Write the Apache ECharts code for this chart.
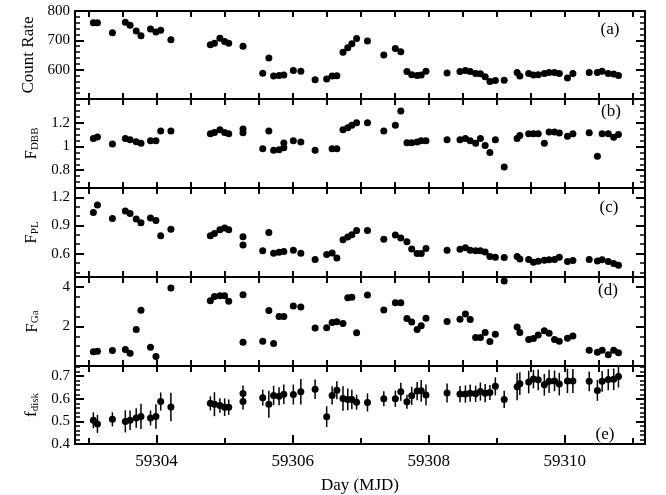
<!DOCTYPE html>
<html><head><meta charset="utf-8">
<script src="https://cdn.jsdelivr.net/npm/echarts@6/dist/echarts.min.js"></script>
<style>html,body{margin:0;padding:0;background:#fff}#c{width:666px;height:495px}</style>
</head><body><div id="c"></div>
<script>
// ---- data (MJD, value) ----
const countRate = [
[59303.07,760],[59303.13,760],[59303.35,726],[59303.54,762],[59303.61,751],[59303.70,732],[59303.77,716],[59303.91,739],[59303.99,728],[59304.06,734],[59304.21,702],
[59304.79,685],[59304.85,690],[59304.93,707],[59305.00,696],[59305.06,690],[59305.27,680],
[59305.56,588],[59305.65,640],[59305.72,578],[59305.80,580],[59305.87,582],[59306.01,597],[59306.12,595],
[59306.33,566],[59306.50,568],[59306.58,578],[59306.65,579],[59306.74,659],[59306.81,675],[59306.87,688],[59306.94,706],[59307.10,698],
[59307.34,650],[59307.51,672],[59307.59,661],[59307.68,594],[59307.75,583],[59307.83,580],[59307.89,582],[59307.96,595],
[59308.27,589],[59308.46,594],[59308.54,597],[59308.61,594],[59308.69,587],[59308.76,586],[59308.83,576],[59308.90,560],[59308.98,563],[59309.11,564],
[59309.30,590],[59309.34,578],[59309.47,587],[59309.54,582],[59309.61,583],[59309.70,587],[59309.77,590],[59309.85,590],[59309.92,587],[59310.04,572],[59310.12,587],
[59310.36,590],[59310.48,590],[59310.55,595],[59310.64,587],[59310.72,585],[59310.79,580]
];
const fDBB = [
[59303.07,1.068],[59303.13,1.079],[59303.35,1.02],[59303.54,1.068],[59303.61,1.056],[59303.70,1.04],[59303.77,1.028],[59303.91,1.048],[59303.99,1.048],[59304.06,1.13],[59304.21,1.13],
[59304.79,1.107],[59304.85,1.118],[59304.93,1.141],[59305.00,1.118],[59305.06,1.107],[59305.27,1.147],[59305.27,1.115],
[59305.56,0.98],[59305.65,1.13],[59305.72,0.969],[59305.80,0.972],[59305.87,0.99],[59305.87,1.03],[59306.01,1.048],[59306.12,1.037],
[59306.33,0.969],[59306.58,0.98],[59306.65,0.98],[59306.74,1.141],[59306.81,1.158],[59306.87,1.178],[59306.94,1.2],[59307.10,1.2],
[59307.34,1.13],[59307.51,1.178],[59307.59,1.299],[59307.68,1.031],[59307.75,1.031],[59307.83,1.037],[59307.89,1.048],[59307.96,1.048],
[59308.27,1.056],[59308.46,1.056],[59308.54,1.068],[59308.61,1.048],[59308.69,1.028],[59308.76,1.068],[59308.83,1.009],[59308.90,0.95],[59308.98,1.056],[59309.11,0.828],
[59309.30,1.068],[59309.34,1.093],[59309.47,1.107],[59309.54,1.107],[59309.61,1.107],[59309.70,1.028],[59309.77,1.121],[59309.85,1.121],[59309.92,1.113],[59310.04,1.087],[59310.12,1.107],
[59310.36,1.115],[59310.48,0.918],[59310.55,1.107],[59310.64,1.107],[59310.72,1.077],[59310.79,1.1]
];
const fPL = [
[59303.07,1.038],[59303.13,1.118],[59303.35,0.974],[59303.54,1.055],[59303.61,1.027],[59303.70,0.970],[59303.77,0.928],[59303.91,0.981],[59303.99,0.953],[59304.06,0.79],[59304.21,0.861],
[59304.79,0.79],[59304.85,0.815],[59304.93,0.854],[59305.00,0.872],[59305.06,0.854],[59305.27,0.779],[59305.27,0.692],
[59305.56,0.631],[59305.65,0.826],[59305.72,0.604],[59305.80,0.614],[59305.87,0.621],[59306.01,0.635],[59306.12,0.604],
[59306.33,0.536],[59306.50,0.589],[59306.58,0.607],[59306.65,0.554],[59306.74,0.748],[59306.81,0.776],[59306.87,0.8],[59306.94,0.847],[59307.10,0.847],
[59307.34,0.752],[59307.51,0.797],[59307.59,0.766],[59307.68,0.727],[59307.75,0.649],[59307.83,0.6],[59307.89,0.6],[59307.96,0.653],
[59308.27,0.635],[59308.46,0.646],[59308.54,0.663],[59308.61,0.635],[59308.69,0.631],[59308.76,0.631],[59308.83,0.617],[59308.90,0.568],[59308.98,0.561],[59309.11,0.557],
[59309.30,0.568],[59309.34,0.543],[59309.47,0.536],[59309.54,0.508],[59309.61,0.519],[59309.70,0.529],[59309.77,0.533],[59309.85,0.536],[59309.92,0.561],[59310.04,0.515],[59310.12,0.526],
[59310.36,0.536],[59310.48,0.522],[59310.55,0.533],[59310.64,0.515],[59310.72,0.494],[59310.79,0.476]
];
const fGa = [
[59303.07,0.72],[59303.13,0.75],[59303.35,0.785],[59303.54,0.835],[59303.61,0.65],[59303.70,1.85],[59303.77,2.82],[59303.91,0.95],[59303.99,0.485],[59304.21,3.95],
[59304.79,3.3],[59304.85,3.52],[59304.93,3.55],[59305.00,3.55],[59305.06,3.28],[59305.27,3.6],[59305.27,1.2],
[59305.56,1.25],[59305.65,2.8],[59305.72,1.135],[59305.80,2.5],[59305.87,2.5],[59306.01,3.035],[59306.12,2.985],
[59306.33,1.92],[59306.50,1.935],[59306.58,2.2],[59306.65,2.235],[59306.74,2.15],[59306.81,3.45],[59306.87,3.47],[59306.94,1.685],[59307.10,3.585],
[59307.34,2.835],[59307.51,3.2],[59307.59,3.2],[59307.68,2.4],[59307.75,2.22],[59307.83,1.85],[59307.89,2.035],[59307.96,2.42],
[59308.27,2.25],[59308.46,2.37],[59308.54,2.635],[59308.61,2.35],[59308.69,1.435],[59308.76,1.435],[59308.83,1.7],[59308.90,1.235],[59308.98,1.6],[59309.11,4.3],
[59309.30,1.97],[59309.34,1.7],[59309.47,1.335],[59309.54,1.385],[59309.61,1.57],[59309.70,1.785],[59309.77,1.65],[59309.85,1.335],[59309.92,1.25],[59310.04,1.4],[59310.12,1.52],
[59310.36,0.8],[59310.48,0.7],[59310.55,0.8],[59310.64,0.565],[59310.72,0.8],[59310.79,0.67]
];
// (MJD, f_disk, half error)
const fDisk = [
[59303.07,0.505,0.035],[59303.13,0.489,0.04],[59303.35,0.509,0.031],[59303.54,0.5,0.049],[59303.61,0.505,0.043],[59303.70,0.515,0.043],[59303.77,0.522,0.056],[59303.91,0.515,0.033],[59303.99,0.522,0.054],[59304.06,0.588,0.04],[59304.21,0.564,0.063],
[59304.79,0.58,0.031],[59304.85,0.576,0.053],[59304.93,0.57,0.032],[59305.00,0.563,0.039],[59305.06,0.563,0.034],[59305.27,0.623,0.036],[59305.27,0.588,0.035],
[59305.56,0.605,0.035],[59305.65,0.576,0.06],[59305.72,0.615,0.043],[59305.80,0.611,0.04],[59305.87,0.62,0.043],[59306.01,0.619,0.044],[59306.12,0.631,0.056],
[59306.33,0.642,0.043],[59306.50,0.521,0.046],[59306.58,0.615,0.04],[59306.65,0.638,0.04],[59306.74,0.601,0.054],[59306.81,0.597,0.048],[59306.87,0.597,0.043],[59306.94,0.585,0.033],[59307.10,0.584,0.04],
[59307.34,0.6,0.033],[59307.51,0.6,0.036],[59307.59,0.631,0.04],[59307.68,0.587,0.031],[59307.75,0.613,0.04],[59307.83,0.634,0.04],[59307.89,0.635,0.048],[59307.96,0.617,0.046],
[59308.27,0.626,0.042],[59308.46,0.621,0.036],[59308.54,0.621,0.038],[59308.61,0.625,0.038],[59308.69,0.622,0.036],[59308.76,0.632,0.04],[59308.83,0.625,0.04],[59308.90,0.628,0.033],[59308.98,0.655,0.04],[59309.11,0.597,0.038],
[59309.30,0.653,0.06],[59309.34,0.667,0.05],[59309.47,0.674,0.05],[59309.54,0.687,0.041],[59309.61,0.684,0.046],[59309.70,0.662,0.048],[59309.77,0.677,0.051],[59309.85,0.679,0.046],[59309.92,0.665,0.05],[59310.04,0.679,0.054],[59310.12,0.679,0.053],
[59310.36,0.677,0.044],[59310.48,0.637,0.046],[59310.55,0.677,0.046],[59310.64,0.685,0.047],[59310.72,0.686,0.048],[59310.79,0.699,0.049]
];
const xTickLabels = [59304, 59306, 59308, 59310];
const panelLabels = ['(a)', '(b)', '(c)', '(d)', '(e)'];
const yLabelsA = [600, 700, 800];
const yLabelsB = [0.8, 1, 1.2];
const yLabelsC = [0.6, 0.9, 1.2];
const yLabelsD = [2, 4];
const yLabelsE = [0.4, 0.5, 0.6, 0.7];

// ---- layout ----
const FONT = '"Liberation Serif","Times New Roman",serif';
const X_MIN = 59302.8, X_MAX = 59311.18;
const GL = 75, GR = 21;
const grids = [
  {top: 11, height: 88}, {top: 99, height: 89}, {top: 188, height: 89},
  {top: 277, height: 89}, {top: 366, height: 86}
];
function steps(a, b, s) { const r = []; const n = Math.round((b - a) / s); for (let k = 0; k <= n; k++) r.push(+(a + k * s).toFixed(5)); return r; }
const halfDays = steps(59303, 59311, 0.5);
const oddDays = [59303, 59305, 59307, 59309, 59311];

const subRich = {
  f: {fontFamily: FONT, fontSize: 17, color: '#000', lineHeight: 18, verticalAlign: 'top'},
  s: {fontFamily: FONT, fontSize: 11, color: '#000', lineHeight: 18, verticalAlign: 'top', padding: [6, 0, 0, 0]},
  n: {fontFamily: FONT, fontSize: 17, color: '#000', lineHeight: 18}
};
const panels = [
  {data: countRate, min: 500, max: 800, labels: yLabelsA, majors: [500, 600, 700, 800], minors: steps(500, 800, 20), name: '{n|Count Rate}', gap: 33},
  {data: fDBB, min: 0.65, max: 1.4, labels: yLabelsB, majors: yLabelsB, minors: steps(0.65, 1.4, 0.05), name: '{f|F}{s|DBB}', gap: 33},
  {data: fPL, min: 0.35, max: 1.3, labels: yLabelsC, majors: yLabelsC, minors: steps(0.4, 1.3, 0.1), name: '{f|F}{s|PL}', gap: 33},
  {data: fGa, min: 0, max: 4.5, labels: yLabelsD, majors: [0, 2, 4], minors: steps(0, 4.5, 0.5), name: '{f|F}{s|Ga}', gap: 33},
  {data: fDisk, min: 0.4, max: 0.745, labels: yLabelsE, majors: yLabelsE, minors: steps(0.4, 0.74, 0.02), name: '{f|f}{s|disk}', gap: 33}
];

const line = {color: '#000', width: 2};
const xAxes = [], yAxes = [], series = [], gridOpts = [];
panels.forEach((p, i) => {
  gridOpts.push({left: GL, right: GR, top: grids[i].top, height: grids[i].height});
  const xb = {gridIndex: i, type: 'value', min: X_MIN, max: X_MAX, splitLine: {show: false},
    axisLine: {onZero: false, lineStyle: line}, axisLabel: {show: false}};
  const xMain = xAxes.length;
  if (i < 4) {
    xAxes.push({...xb, position: 'bottom', axisTick: {inside: true, length: 6, customValues: halfDays, lineStyle: line}});
  } else {
    xAxes.push({...xb, position: 'bottom',
      axisTick: {inside: true, length: 9, customValues: xTickLabels, lineStyle: line},
      axisLabel: {show: true, customValues: xTickLabels, formatter: v => String(v), fontFamily: FONT, fontSize: 17, color: '#000', margin: 9},
      name: 'Day (MJD)', nameLocation: 'middle', nameGap: 33, nameTextStyle: {fontFamily: FONT, fontSize: 17, color: '#000'}});
    xAxes.push({...xb, position: 'bottom', axisTick: {inside: true, length: 6, customValues: oddDays, lineStyle: line}});
  }
  xAxes.push({...xb, position: 'top', axisTick: {inside: true, length: 6, customValues: halfDays, lineStyle: line}});

  const yb = {gridIndex: i, type: 'value', min: p.min, max: p.max, splitLine: {show: false},
    axisLine: {onZero: false, lineStyle: line}, axisLabel: {show: false}};
  const yMain = yAxes.length;
  yAxes.push({...yb, position: 'left', axisTick: {inside: true, length: 9, customValues: p.majors, lineStyle: line},
    axisLabel: {show: true, customValues: p.labels, formatter: v => String(v), fontFamily: FONT, fontSize: 15, color: '#000', margin: 5},
    name: p.name, nameLocation: 'middle', nameRotate: 90, nameGap: p.gap, nameTextStyle: {rich: subRich}});
  yAxes.push({...yb, position: 'left', axisTick: {inside: true, length: 5, customValues: p.minors, lineStyle: {color: '#000', width: 1.5}}});
  yAxes.push({...yb, position: 'right', axisTick: {inside: true, length: 9, customValues: p.majors, lineStyle: line}});
  yAxes.push({...yb, position: 'right', axisTick: {inside: true, length: 5, customValues: p.minors, lineStyle: {color: '#000', width: 1.5}}});

  if (i === 4) {
    series.push({type: 'custom', xAxisIndex: xMain, yAxisIndex: yMain, silent: true, z: 1,
      data: p.data.map(d => [d[0], d[1] - d[2], d[1] + d[2]]),
      renderItem: (params, api) => {
        const x = api.value(0);
        const a = api.coord([x, api.value(1)]), b = api.coord([x, api.value(2)]);
        return {type: 'line', shape: {x1: a[0], y1: a[1], x2: b[0], y2: b[1]}, style: {stroke: '#000', lineWidth: 1.5}};
      }});
  }
  series.push({type: 'scatter', xAxisIndex: xMain, yAxisIndex: yMain, symbol: 'circle', symbolSize: 7,
    itemStyle: {color: '#000', opacity: 1}, z: 3, silent: true, data: p.data.map(d => [d[0], d[1]])});
});

const labelPos = [[610, 30], [611, 112], [609, 208], [608, 291], [605, 435]];
const graphic = panelLabels.map((t, i) => ({type: 'text', x: labelPos[i][0], y: labelPos[i][1],
  style: {text: t, fontFamily: FONT, fontSize: 17, fill: '#000', textAlign: 'center', textVerticalAlign: 'middle'}}));

const chart = echarts.init(document.getElementById('c'), null, {renderer: 'canvas'});
chart.setOption({animation: false, backgroundColor: '#fff', grid: gridOpts, xAxis: xAxes, yAxis: yAxes, series, graphic});
</script></body></html>
